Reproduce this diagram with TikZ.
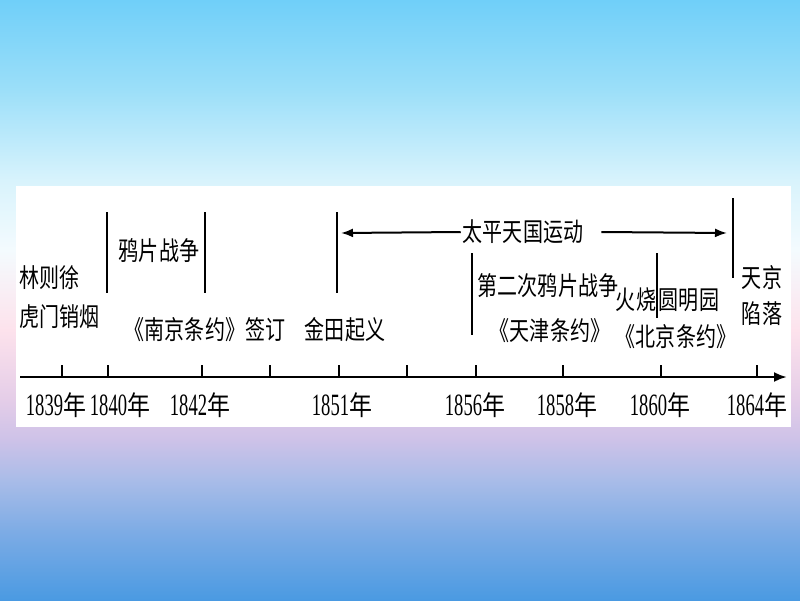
\documentclass[tikz,border=0pt]{standalone}
\usepackage{fontspec}
\usetikzlibrary{arrows.meta}
\newfontfamily\cjk[FakeStretch=0.77]{Noto Sans CJK SC}
\newfontfamily\cjkyr[FakeStretch=0.85]{Noto Sans CJK SC}
\newfontfamily\numf[FakeStretch=0.6]{Liberation Serif}
\newcommand\yr[1]{{\numf\fontsize{31}{31}\selectfont #1}{\cjkyr\fontsize{27}{27}\selectfont 年}}
\definecolor{g0}{HTML}{70CFF9}
\definecolor{g1}{HTML}{9CDFF9}
\definecolor{g2}{HTML}{D8F3FC}
\definecolor{g3}{HTML}{F4FBFE}
\definecolor{g4}{HTML}{FDE2EC}
\definecolor{g5}{HTML}{E4CDE8}
\definecolor{g6}{HTML}{CDC2E8}
\definecolor{g7}{HTML}{A9BCE8}
\definecolor{g8}{HTML}{7EACE5}
\definecolor{g9}{HTML}{4A9AE2}
\begin{document}
\begin{tikzpicture}[x=1pt,y=-1pt,
  txt/.style={font=\cjk\fontsize{26}{28}\selectfont, inner sep=0pt},
  yrlab/.style={inner sep=0pt},
  vline/.style={line width=1.2pt, black},
  tick/.style={line width=1.2pt, black},
  axisline/.style={line width=2.5pt, -{Latex[length=13pt,width=10pt]}},
  arr/.style={line width=2pt, -{Latex[length=12pt,width=9pt]}}]
\useasboundingbox (0,0) rectangle (800,600);
% background gradient
\foreach \ya/\yb/\ca/\cb in {0/90/g0/g1, 90/180/g1/g2, 180/250/g2/g3, 250/330/g3/g4, 330/400/g4/g5, 400/440/g5/g6, 440/480/g6/g7, 480/530/g7/g8, 530/600/g8/g9}
  \shade[top color=\ca, bottom color=\cb] (0,\ya) rectangle (800,\yb+0.6);
% white panel
\fill[white] (16,186) rectangle (791,427);
% axis
\coordinate (axs) at (20,377);
\coordinate (axe) at (787,377);
\draw[axisline] (axs) -- (axe);
\foreach \x in {62,108,202,270,339,407,476,563,661,757}
  \draw[tick] (\x,377) -- (\x,365);
% year labels
\node[yrlab] (y1839) at (56,405) {\yr{1839}};
\node[yrlab] (y1840) at (120,405) {\yr{1840}};
\node[yrlab] (y1842) at (200,405) {\yr{1842}};
\node[yrlab] (y1851) at (342,405) {\yr{1851}};
\node[yrlab] (y1856) at (475,405) {\yr{1856}};
\node[yrlab] (y1858) at (567,405) {\yr{1858}};
\node[yrlab] (y1860) at (660,405) {\yr{1860}};
\node[yrlab] (y1864) at (757,405) {\yr{1864}};
% vertical markers
\draw[vline] (107,212) -- (107,293);
\draw[vline] (205,212) -- (205,293);
\draw[vline] (337,212) -- (337,293);
\draw[vline] (733,198) -- (733,278);
\draw[vline] (472,253) -- (472,335);
\draw[vline] (657,253) -- (657,318);
% texts
\node[txt, anchor=west, align=left, font=\cjk\fontsize{26}{39}\selectfont] (lin) at (19,297) {林则徐\\虎门销烟};
\node[txt] (yapian) at (159,251) {鸦片战争};
\node[txt] (nanjing) at (205,330) {《南京条约》签订};
\node[txt] (jintian) at (345,330) {金田起义};
\node[txt] (taiping) at (523,232) {太平天国运动};
\node[txt] (dierci) at (548,286) {第二次鸦片战争};
\node[txt] (tianjin) at (550,331) {《天津条约》};
\node[txt] (huoshao) at (636,300) {火烧};
\node[txt] (yuanming) at (689,300) {圆明园};
\node[txt] (beijing) at (676,337) {《北京条约》};
\node[txt, align=left, font=\cjk\fontsize{26}{36}\selectfont] (tianjing) at (762,296) {天京\\陷落};
% Taiping arrows
\coordinate (tpL) at (341,233);
\coordinate (tpR) at (727,233);
\draw[arr] ([xshift=-2pt]taiping.west) -- (tpL);
\draw[arr] ([xshift=18pt]taiping.east) -- (tpR);
\end{tikzpicture}
\end{document}
